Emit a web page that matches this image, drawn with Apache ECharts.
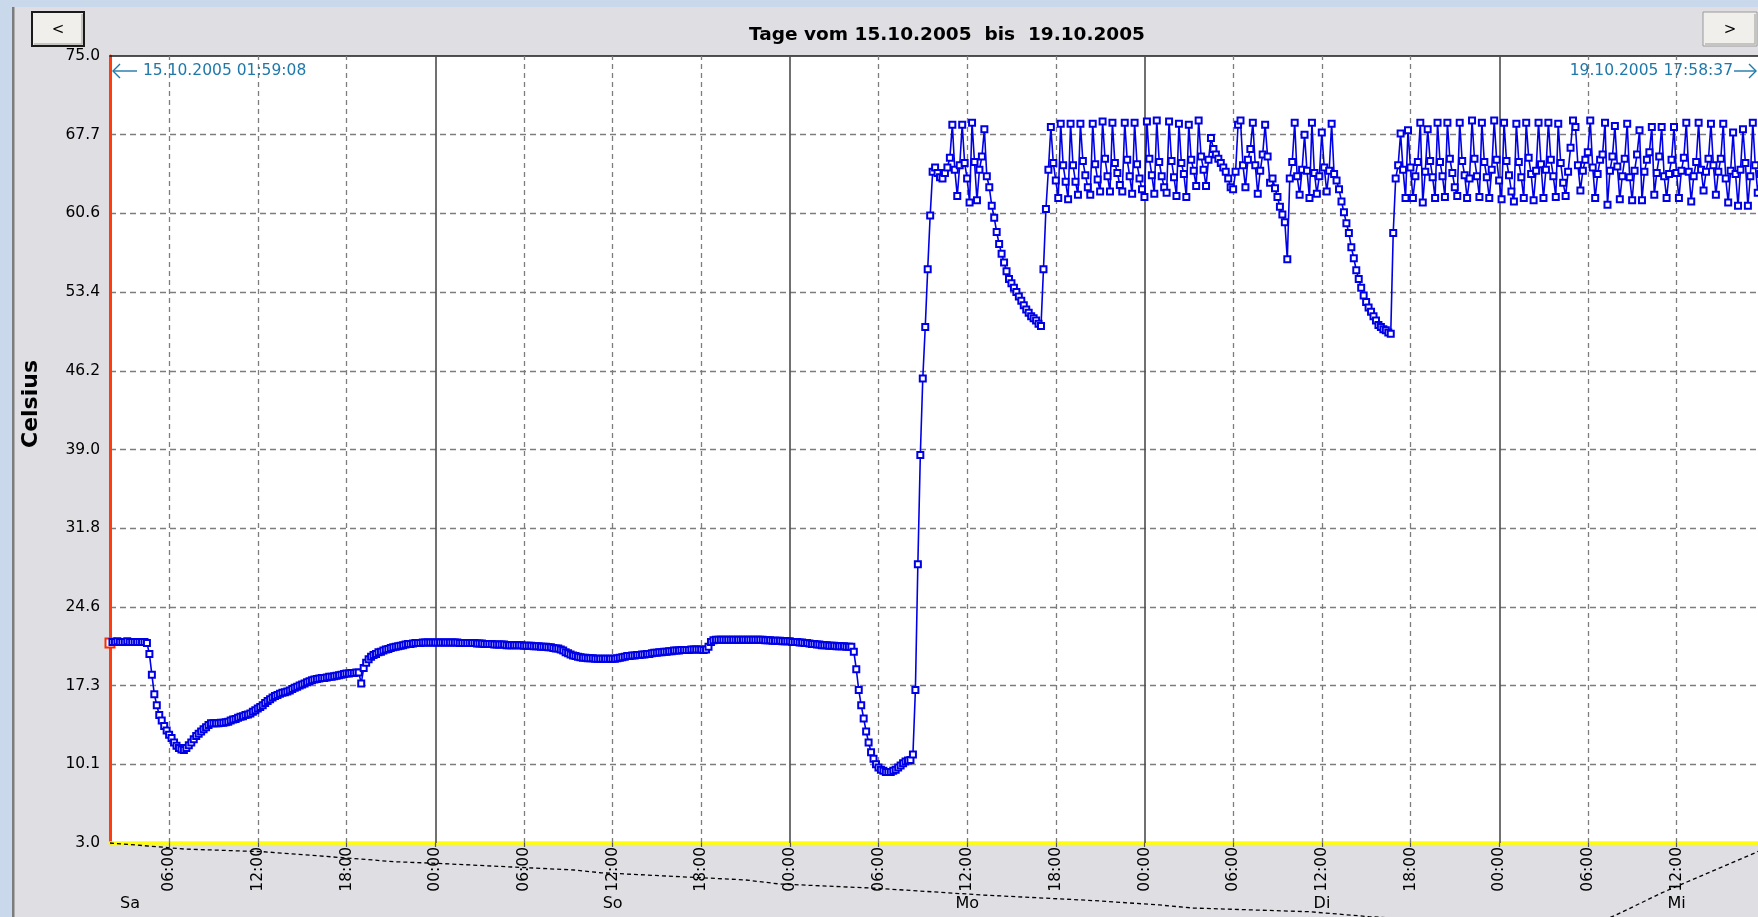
<!DOCTYPE html>
<html>
<head>
<meta charset="utf-8">
<script src="https://cdn.jsdelivr.net/npm/echarts@6/dist/echarts.min.js"></script>
<style>
  html, body { margin: 0; padding: 0; background: #dedee3; }
  #chart { width: 1758px; height: 917px; }
</style>
</head>
<body>
<div id="chart"></div>
<script>
// Time axis in hours since 15.10.2005 00:00
const rangeStart = 1 + 59 / 60 + 8 / 3600;        // 15.10.2005 01:59:08
const rangeEnd = 96 + 17 + 58 / 60 + 37 / 3600;    // 19.10.2005 17:58:37
const sampleStepMin = 10;                          // logger interval

// Flow temperature, one reading per sample step from rangeStart
const temperatures = [
  /* Sa 02:00 */ 21.3, 21.4, 21.4, 21.45, 21.4, 21.4, 21.4, 21.45, 21.4, 21.4, 21.4, 21.4, 21.4, 21.4, 21.4,
  /* Sa 04:30 */ 21.3, 20.3, 18.4, 16.6, 15.6, 14.7, 14.2, 13.7, 13.3, 12.9, 12.6, 12.2, 11.9, 11.7, 11.55,
  11.5, 11.7, 11.95, 12.2, 12.5, 12.8, 13.0, 13.2, 13.4, 13.6, 13.8, 13.95,
  /* Sa 09:00 */ 13.95, 13.95, 13.95, 14.0, 14.0, 14.05, 14.1, 14.2, 14.3, 14.35, 14.45, 14.55, 14.6, 14.7,
  14.75, 14.85, 15.0, 15.15, 15.3, 15.45, 15.6, 15.8, 16.0, 16.15, 16.3, 16.45, 16.55, 16.65, 16.75, 16.8,
  16.85, 16.95, 17.1, 17.2, 17.3, 17.4, 17.5, 17.6, 17.7, 17.8, 17.9, 17.95, 18.0, 18.05, 18.1, 18.1,
  18.15, 18.2, 18.2, 18.25, 18.3, 18.35, 18.4, 18.45,
  /* Sa 18:00 */ 18.5, 18.5, 18.55, 18.55, 18.6, 18.6, 17.6, 19.0, 19.5, 19.8, 20.05, 20.2, 20.3, 20.45,
  20.5, 20.6, 20.7, 20.75, 20.85, 20.9, 20.95, 21.0, 21.05, 21.1, 21.15, 21.2, 21.2, 21.25, 21.3,
  /* So 00:50 */ 21.3, 21.3, 21.35, 21.35, 21.35, 21.35, 21.35, 21.35, 21.35, 21.35, 21.35, 21.35, 21.35,
  21.35, 21.35, 21.35, 21.35, 21.3, 21.3, 21.3, 21.3, 21.3, 21.3, 21.3,
  /* So 04:50 */ 21.25, 21.25, 21.25, 21.2, 21.2, 21.2, 21.2, 21.15, 21.15, 21.15, 21.15, 21.15, 21.1, 21.1,
  21.1, 21.1, 21.1, 21.1, 21.1, 21.05, 21.05, 21.05, 21.05, 21.0, 21.0, 21.0, 20.95, 20.95, 20.95, 20.9,
  20.9, 20.85, 20.8, 20.8,
  /* So 10:30 */ 20.7, 20.6, 20.45, 20.35, 20.25, 20.15, 20.1, 20.05, 20.0, 19.95, 19.95, 19.9, 19.9, 19.9,
  19.85, 19.85, 19.85, 19.85, 19.85, 19.85, 19.85, 19.85,
  /* So 14:10 */ 19.85, 19.9, 19.95, 20.0, 20.05, 20.1, 20.1, 20.15, 20.15, 20.2, 20.2, 20.25, 20.25, 20.3,
  20.3, 20.35, 20.4, 20.4, 20.45, 20.45, 20.5, 20.5, 20.55, 20.55, 20.6, 20.6, 20.6, 20.65, 20.65, 20.65,
  20.65, 20.7, 20.7, 20.7, 20.7, 20.7, 20.65, 20.7,
  /* So 20:30 */ 20.95, 21.4, 21.55, 21.6, 21.6, 21.6, 21.6, 21.6, 21.6, 21.6, 21.6, 21.6, 21.6, 21.6, 21.6,
  21.6, 21.6, 21.6, 21.6, 21.6, 21.6, 21.6,
  /* Mo 00:10 */ 21.6, 21.55, 21.55, 21.55, 21.5, 21.5, 21.5, 21.5, 21.45, 21.45, 21.45, 21.45, 21.4, 21.4,
  21.4, 21.35, 21.35, 21.3, 21.3, 21.25, 21.2, 21.2, 21.15, 21.15, 21.1, 21.1, 21.1, 21.05, 21.05, 21.05,
  21.0, 21.0, 21.0, 21.0, 20.95, 20.95, 20.95,
  /* Mo 04:20 */ 20.5, 18.9, 17.0, 15.6, 14.4, 13.2, 12.2, 11.3, 10.7, 10.2, 9.9, 9.7, 9.6, 9.5, 9.5, 9.5,
  9.6, 9.7, 9.9, 10.1, 10.3, 10.45, 10.55, 10.6, 11.1, 17.0, 28.5, 38.5, 45.5, 50.2, 55.5, 60.4,
  /* Mo 09:40 */ 64.4, 64.8, 64.3, 63.9, 63.8, 64.3, 64.8, 65.7, 68.7, 64.6, 62.2, 65.0, 68.7, 65.2, 63.8,
  61.6, 68.9, 65.3, 61.8, 64.6, 65.8, 68.3, 64.0,
  /* Mo 13:30 */ 63.0, 61.3, 60.2, 58.9, 57.8, 56.9, 56.1, 55.3, 54.6, 54.2, 53.8, 53.4, 53.0, 52.6, 52.2,
  51.8, 51.5, 51.2, 51.0, 50.8, 50.5, 50.3, 55.5, 61.0, 64.6,
  /* Mo 17:40 */ 68.5, 65.2, 63.6, 62.0, 68.8, 65.0, 63.5, 61.9, 68.8, 65.0, 63.5, 62.3, 68.8, 65.4, 64.1,
  63.0, 62.3, 68.8, 65.1, 63.7, 62.6, 69.0, 65.6, 64.0, 62.6, 68.9, 65.2, 64.3, 63.2, 62.6, 68.9, 65.5,
  64.0, 62.4, 68.9, 65.1, 63.8, 62.8, 62.1, 69.0, 65.6, 64.1, 62.4, 69.1, 65.3, 64.0, 63.0, 62.5, 69.0,
  65.4, 63.9, 62.2, 68.8, 65.2, 64.2, 62.1, 68.7, 65.5, 64.5, 63.1, 69.1, 65.8, 64.6, 63.1,
  /* Di 04:20 */ 65.5, 67.5, 66.5, 66.0, 65.6, 65.2, 64.8, 64.4, 63.8, 63.0, 62.8, 64.4, 68.7,
  /* Di 06:30 */ 69.1, 65.0, 63.0, 65.5, 66.5, 68.9, 65.0, 62.4, 64.5, 66.0, 68.7, 65.8, 63.4, 63.8, 62.9,
  62.1, 61.2, 60.5, 59.8, 56.4, 63.8, 65.3, 68.9, 64.0, 62.3, 64.6, 67.8, 64.5, 62.0, 68.9, 64.3, 62.4,
  64.0, 68.0, 64.8, 62.6, 64.5, 68.8,
  /* Di 12:50 */ 64.2, 63.6, 62.8, 61.7, 60.7, 59.7, 58.8, 57.5, 56.5, 55.4, 54.6, 53.8, 53.1, 52.5, 52.0,
  51.6, 51.2, 50.8, 50.4, 50.2, 50.0, 49.9, 49.7,
  /* Di 16:40 */ 49.6, 58.8, 63.8, 65.0, 67.9, 64.6, 62.0, 68.2, 64.8, 62.0, 64.0, 65.3, 68.9, 61.6, 64.4,
  68.3, 65.4, 63.9, 62.0, 68.9, 65.3, 64.0, 62.1, 68.9, 65.6, 64.3, 63.0, 62.2, 68.9, 65.4, 64.1, 62.0,
  63.8, 69.1, 65.6, 64.0, 62.1, 68.9, 65.3, 63.9, 62.0, 64.6, 69.1, 65.5, 63.6, 61.9, 68.9, 65.4, 64.1,
  62.6, 61.7, 68.8, 65.3, 63.9, 62.0, 68.9, 65.7, 64.2, 61.8, 64.5, 68.9, 65.1, 62.0, 64.6, 68.9, 65.5,
  64.0, 62.1, 68.8, 65.2, 63.4, 62.2, 64.4, 66.6, 69.1, 68.5, 65.0, 62.7, 64.5, 65.5, 66.2, 69.1, 64.8,
  62.0, 64.2, 65.5, 66.0, 68.9, 61.4, 64.5, 65.8, 68.6, 64.9, 61.9, 64.0, 65.6, 68.8, 63.9, 61.8, 64.5,
  66.0, 68.2, 61.8, 64.4, 65.5, 66.2, 68.5, 62.3, 64.3, 65.8, 68.5, 64.0, 62.0, 64.2, 65.5, 68.5, 64.3,
  62.0, 64.5, 65.7, 68.9, 64.4, 61.7, 64.0, 65.3, 68.9, 64.6, 62.7, 64.4, 65.6, 68.8, 65.0, 62.3, 64.4,
  65.6, 68.8, 63.8, 61.6, 64.5, 68.0, 64.2, 61.3, 64.6, 68.3, 65.2, 61.3, 64.0, 68.9, 65.0, 62.5, 64.2,
  65.6
];

// Second channel (off the lower end of the scale): hours after rangeStart and value
const channel2Hours = [0, 3.2, 5.0, 10.4, 16.9, 19.2, 22.1, 31.4, 33.2, 43.0, 45.3, 51.8, 57.2, 59.1,
  67.0, 71.0, 73.3, 81.2, 85.2, 90.5, 95.5, 100.0, 101.9, 105.0, 106.7, 111.3, 111.99];
const channel2Values = [3.0, 2.66, 2.45, 2.2, 1.54, 1.29, 1.14, 0.53, 0.28, -0.38, -0.75, -1.14, -1.6,
  -1.76, -2.3, -2.67, -2.95, -3.29, -3.74, -4.15, -4.5, -4.7, -3.59, -1.57, -0.57, 2.09, 2.55];

// Axis ticks
const hourTicks = [6, 12, 18, 24, 30, 36, 42, 48, 54, 60, 66, 72, 78, 84, 90, 96, 102, 108];
const hourLabels = ['06:00', '12:00', '18:00', '00:00', '06:00', '12:00', '18:00', '00:00', '06:00',
  '12:00', '18:00', '00:00', '06:00', '12:00', '18:00', '00:00', '06:00', '12:00'];
const dayTicks = [rangeStart, 36, 60, 84, 108];
const dayLabels = ['Sa', 'So', 'Mo', 'Di', 'Mi'];
const yMin = 3.0, yMax = 75.0, yStep = 7.2;
const yTickLabels = ['3.0', '10.1', '17.3', '24.6', '31.8', '39.0', '46.2', '53.4', '60.6', '67.7', '75.0'];

const FONT = 'DejaVu Sans';
const BLUE = '#0000e6';

const tempData = temperatures.map((v, i) => {
  const t = rangeStart + i * sampleStepMin / 60;
  if (i === 0) {
    return { value: [t, v], symbolSize: 9, itemStyle: { color: '#ff2a00', borderColor: '#ff2a00', borderWidth: 2 } };
  }
  return [t, v];
});
const channel2Data = channel2Hours.map((h, i) => [rangeStart + h, channel2Values[i]]);

const gridLines = hourTicks.map(h => {
  const midnight = h % 24 === 0;
  return {
    xAxis: h,
    lineStyle: midnight
      ? { type: 'solid', color: '#4d4d4d', width: 1.6 }
      : { type: [5, 4], color: '#7d7d7d', width: 1.3 }
  };
});

const chart = echarts.init(document.getElementById('chart'), null, { renderer: 'canvas' });

function button(x, y, w, h, glyph, focused) {
  return {
    type: 'group',
    children: [
      { type: 'rect', shape: { x: x, y: y, width: w, height: h },
        style: { fill: '#f0efec', stroke: focused ? '#1a1a1a' : '#9a9a9a', lineWidth: focused ? 2 : 1 } },
      { type: 'polyline', shape: { points: [[x + 2, y + h - 2], [x + w - 2, y + h - 2], [x + w - 2, y + 2]] },
        style: { stroke: '#b8b6b2', lineWidth: 1.5, fill: null } },
      { type: 'text', x: x + w / 2, y: y + h / 2 + 1,
        style: { text: glyph, font: '15px "' + FONT + '"', fill: '#000', align: 'center', verticalAlign: 'middle' } }
    ]
  };
}

const option = {
  backgroundColor: '#dedee3',
  animation: false,
  grid: {
    left: 110, top: 56, right: -7, bottom: 74,
    show: true, backgroundColor: '#ffffff', borderWidth: 0,
    containLabel: false, outerBoundsMode: 'none'
  },
  xAxis: [
    {
      type: 'value', min: rangeStart, max: rangeEnd, position: 'bottom',
      axisLine: { show: true, onZero: false, lineStyle: { color: '#ffff00', width: 3.5 } },
      axisTick: { show: true, customValues: hourTicks, length: 4, lineStyle: { color: '#555', width: 1.2 } },
      axisLabel: {
        show: true, customValues: hourTicks, rotate: 90, margin: 4,
        fontFamily: FONT, fontSize: 15.5, color: '#000',
        formatter: v => hourLabels[hourTicks.indexOf(Math.round(v))] || ''
      },
      splitLine: { show: false }
    },
    {
      type: 'value', min: rangeStart, max: rangeEnd, position: 'top',
      axisLine: { show: true, onZero: false, lineStyle: { color: '#1a1a1a', width: 1.5 } },
      axisTick: { show: false }, axisLabel: { show: false }, splitLine: { show: false }
    },
    {
      type: 'value', min: rangeStart, max: rangeEnd, position: 'bottom', offset: 0,
      axisLine: { show: false }, axisTick: { show: false }, splitLine: { show: false },
      axisLabel: {
        show: true, customValues: dayTicks, margin: 53,
        fontFamily: FONT, fontSize: 16, color: '#000',
        formatter: (v) => {
          let k = 0;
          dayTicks.forEach((d, j) => { if (Math.abs(d - v) < Math.abs(dayTicks[k] - v)) k = j; });
          return k === 0 ? '{first|' + dayLabels[k] + '}' : dayLabels[k];
        },
        rich: { first: { fontFamily: FONT, fontSize: 16, color: '#000', padding: [0, 0, 0, 40] } }
      }
    }
  ],
  yAxis: {
    type: 'value', min: yMin, max: yMax, interval: yStep,
    axisLine: { show: true, lineStyle: { color: '#ff3b10', width: 3 } },
    axisTick: { show: false },
    axisLabel: {
      margin: 10, fontFamily: FONT, fontSize: 15.5, color: '#000',
      formatter: v => yTickLabels[Math.round((v - yMin) / yStep)]
    },
    splitLine: { show: true, showMinLine: false, showMaxLine: false,
      lineStyle: { type: [6, 4], color: '#7d7d7d', width: 1.3 } }
  },
  series: [
    {
      name: 'grid', type: 'line', data: [], z: 1, silent: true,
      markLine: { silent: true, symbol: ['none', 'none'], animation: false,
        label: { show: false }, data: gridLines }
    },
    {
      name: 'Vorlauf', type: 'line', data: tempData, z: 5,
      symbol: 'emptyRect', symbolSize: 6, showSymbol: true,
      lineStyle: { color: BLUE, width: 1.6 },
      itemStyle: { color: BLUE, borderColor: BLUE, borderWidth: 1.6 },
      emphasis: { disabled: true }
    },
    {
      name: 'Kanal 2', type: 'line', data: channel2Data, z: 6, clip: false,
      symbol: 'none', silent: true,
      lineStyle: { color: '#000', width: 1.3, type: [4, 3] }
    }
  ],
  graphic: [
    { type: 'rect', silent: true, shape: { x: 0, y: 0, width: 1758, height: 7 }, style: { fill: '#c9d8ea' } },
    { type: 'rect', silent: true, shape: { x: 0, y: 0, width: 12, height: 917 }, style: { fill: '#c9d8ea' } },
    { type: 'rect', silent: true, shape: { x: 12, y: 7, width: 2.5, height: 910 }, style: { fill: '#7c7c7c' } },
    button(32, 12, 52, 34, '<', true),
    button(1703, 12, 54, 34, '>', false),
    { type: 'text', x: 947, y: 35,
      style: { text: 'Tage vom 15.10.2005  bis  19.10.2005', font: 'bold 18.5px "' + FONT + '"',
        fill: '#000', align: 'center', verticalAlign: 'middle' } },
    { type: 'text', x: 31, y: 404, rotation: Math.PI / 2,
      style: { text: 'Celsius', font: 'bold 22px "' + FONT + '"', fill: '#000',
        align: 'center', verticalAlign: 'middle' } },
    // range start / end annotations
    { type: 'polyline', silent: true, z: 10, shape: { points: [[137, 71], [113, 71]] },
      style: { stroke: '#1e78aa', lineWidth: 1.4, fill: null } },
    { type: 'polyline', silent: true, z: 10, shape: { points: [[120, 64], [113, 71], [120, 78]] },
      style: { stroke: '#1e78aa', lineWidth: 1.4, fill: null } },
    { type: 'text', z: 10, x: 143, y: 71,
      style: { text: '15.10.2005 01:59:08', font: '15.5px "' + FONT + '"', fill: '#1e78aa',
        align: 'left', verticalAlign: 'middle' } },
    { type: 'polyline', silent: true, z: 10, shape: { points: [[1734, 71], [1756, 71]] },
      style: { stroke: '#1e78aa', lineWidth: 1.4, fill: null } },
    { type: 'polyline', silent: true, z: 10, shape: { points: [[1749, 64], [1756, 71], [1749, 78]] },
      style: { stroke: '#1e78aa', lineWidth: 1.4, fill: null } },
    { type: 'text', z: 10, x: 1733, y: 71,
      style: { text: '19.10.2005 17:58:37', font: '15.5px "' + FONT + '"', fill: '#1e78aa',
        align: 'right', verticalAlign: 'middle' } }
  ]
};

chart.setOption(option);
</script>
</body>
</html>
